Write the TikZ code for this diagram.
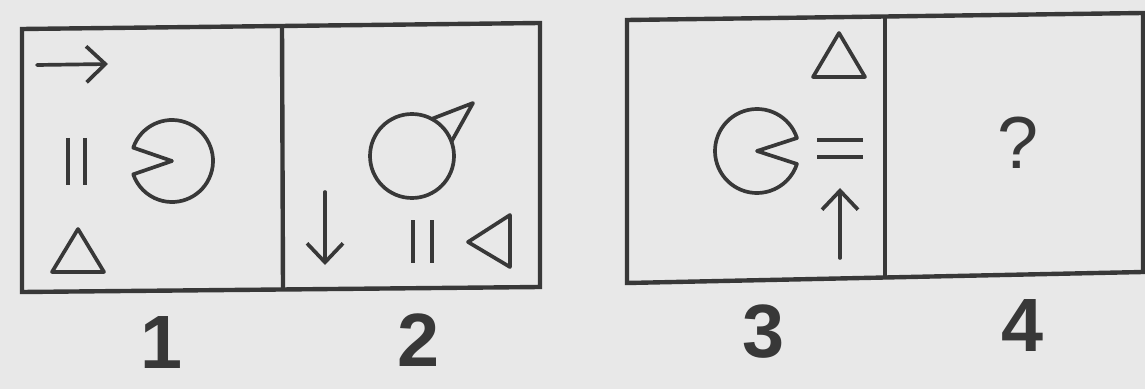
\documentclass[tikz,border=0pt]{standalone}
\usepackage{fontspec}
\newfontfamily\cardfont{Liberation Sans}
\usetikzlibrary{arrows.meta,calc}
\definecolor{InkGrey}{HTML}{383838}
\definecolor{PaperGrey}{HTML}{E8E8E8}

\begin{document}
\begin{tikzpicture}[x=0.2mm, y=0.2mm,
  frame/.style={draw=InkGrey, line width=2.5pt, line join=miter},
  glyph/.style={draw=InkGrey, line width=2.1pt, line join=round, line cap=round},
  bar/.style={draw=InkGrey, line width=2.8pt},
  barbed/.style={glyph, -{Straight Barb[length=3.8mm, width=7.2mm]}},
  num/.style={font=\cardfont\bfseries\fontsize{43}{43}\selectfont, text=InkGrey, inner sep=0pt}]
  \fill[PaperGrey] (0,0) rectangle (1145,-389);
  \useasboundingbox (0,0) rectangle (1145,-389);

  % left card: panels 1 and 2
  \draw[frame] (22,-29) -- (540,-23) -- (540,-287) -- (22,-292) -- cycle;
  \draw[frame] (282,-26) -- (283,-290);
  % right card: panels 3 and 4
  \draw[frame] (627,-20) -- (1143,-13) -- (1143,-272) -- (627,-283) -- cycle;
  \draw[frame] (885,-16) -- (885,-276);

  % panel 1
  \coordinate (p1) at (37,-65);
  \coordinate (p1e) at (108,-64);
  \draw[barbed] (p1) -- (p1e);
  \draw[bar] (68,-138) -- (68,-185) (85,-138) -- (85,-185);
  \coordinate (c1) at (172,-161);
  \draw[glyph] (c1) -- ++(161:41) arc[start angle=161, end angle=-161, radius=41] -- cycle;
  \draw[glyph] (78,-229) -- (104,-272) -- (52,-272) -- cycle;

  % panel 2
  \coordinate (c2) at (412,-156);
  \draw[glyph] (c2) circle[radius=42];
  \draw[glyph] ($(c2)+(62:42)$) -- (473,-103) -- ($(c2)+(20:42)$);
  \coordinate (p2) at (325,-192);
  \coordinate (p2e) at (325,-265);
  \draw[barbed] (p2) -- (p2e);
  \draw[bar] (413,-220) -- (413,-263) (432,-220) -- (432,-263);
  \draw[glyph] (468,-242) -- (510,-215) -- (510,-267) -- cycle;

  % panel 3
  \draw[glyph] (839,-33) -- (865,-77) -- (813,-77) -- cycle;
  \coordinate (c3) at (757,-151);
  \draw[glyph] (c3) -- ++(18:42) arc[start angle=18, end angle=342, radius=42] -- cycle;
  \draw[bar] (817,-140) -- (863,-140) (817,-157) -- (863,-157);
  \coordinate (p3) at (840,-258);
  \coordinate (p3e) at (840,-188);
  \draw[barbed] (p3) -- (p3e);

  % panel 4
  \node[font=\cardfont\fontsize{42}{42}\selectfont, text=InkGrey, inner sep=0pt] (q) at (1018,-143) {?};

  % numbers
  \node[num] (n1) at (162,-343) {1};
  \node[num] (n2) at (419,-340) {2};
  \node[num] (n3) at (763,-332) {3};
  \node[num] (n4) at (1022,-326) {4};
\end{tikzpicture}
\end{document}
